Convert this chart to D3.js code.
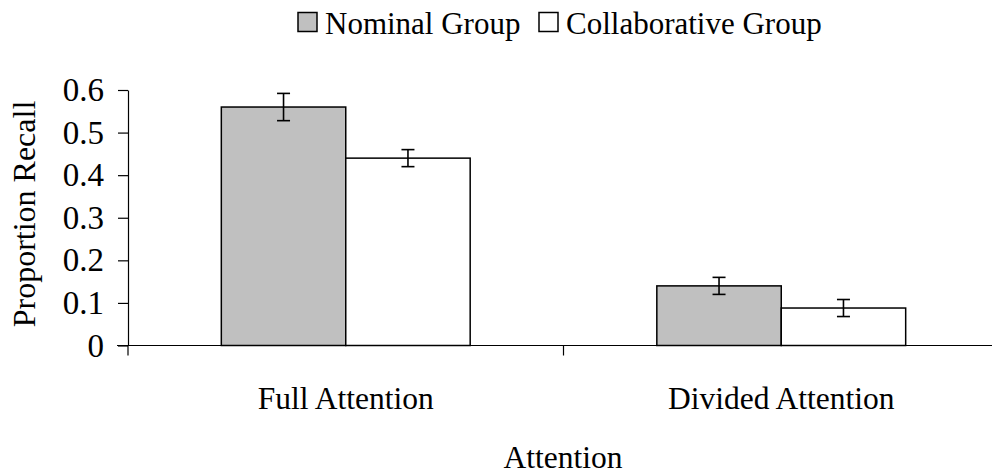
<!DOCTYPE html>
<html>
<head>
<meta charset="utf-8">
<script src="https://cdn.jsdelivr.net/npm/d3@7"></script>
<style>
  body { margin: 0; background: #fff; }
  svg { display: block; }
  text { font-family: "Liberation Serif", "Times New Roman", serif; fill: #000; }
</style>
</head>
<body>
<svg id="chart" width="992" height="475"></svg>
<script>
// ---- data ----
const categories = ["Full Attention", "Divided Attention"];
const seriesNames = ["Nominal Group", "Collaborative Group"];
const nominalValues = [0.56, 0.14];
const collaborativeValues = [0.44, 0.088];
const nominalErrors = [0.032, 0.02];
const collaborativeErrors = [0.02, 0.02];
const yTicks = [0, 0.1, 0.2, 0.3, 0.4, 0.5, 0.6];
const xTitle = "Attention";
const yTitle = "Proportion Recall";

const seriesValues = [nominalValues, collaborativeValues];
const seriesErrors = [nominalErrors, collaborativeErrors];
const seriesFill = ["#c0c0c0", "#ffffff"];

const svg = d3.select("#chart");
const plotLeft = 128, plotRight = 999, plotTop = 90, plotBottom = 345.5;

const x0 = d3.scaleBand().domain(categories).range([plotLeft, plotRight]).padding(0);
const x1 = d3.scaleBand().domain(seriesNames).range([0, x0.bandwidth()]).paddingInner(0).paddingOuter(0.75);
const y = d3.scaleLinear().domain([0, 0.6]).range([plotBottom, plotTop]);

// bars
const data = [];
categories.forEach((c, i) => {
  seriesNames.forEach((s, j) => {
    data.push({ c, s, v: seriesValues[j][i], e: seriesErrors[j][i], fill: seriesFill[j] });
  });
});

svg.append("g").selectAll("rect").data(data).join("rect")
  .attr("x", d => x0(d.c) + x1(d.s))
  .attr("y", d => y(d.v))
  .attr("width", x1.bandwidth())
  .attr("height", d => y(0) - y(d.v))
  .attr("fill", d => d.fill)
  .attr("stroke", "#000")
  .attr("stroke-width", 1.5);

// error bars
const eb = svg.append("g").attr("stroke", "#000").attr("stroke-width", 1.6).attr("fill", "none");
data.forEach(d => {
  const cx = x0(d.c) + x1(d.s) + x1.bandwidth() / 2;
  const y1 = y(d.v + d.e), y2 = y(d.v - d.e);
  eb.append("line").attr("x1", cx).attr("x2", cx).attr("y1", y1).attr("y2", y2);
  eb.append("line").attr("x1", cx - 6.5).attr("x2", cx + 6.5).attr("y1", y1).attr("y2", y1);
  eb.append("line").attr("x1", cx - 6.5).attr("x2", cx + 6.5).attr("y1", y2).attr("y2", y2);
});

// y axis
const yAxis = svg.append("g").attr("transform", `translate(${plotLeft},0)`)
  .call(d3.axisLeft(y).tickValues(yTicks).tickFormat(d => d === 0 ? "0" : d3.format(".1f")(d)).tickSize(10).tickPadding(14).tickSizeOuter(0));
yAxis.attr("font-family", null).attr("font-size", null);
yAxis.selectAll("text").style("font-size", "33px");
yAxis.selectAll("line, path").attr("stroke", "#000").attr("stroke-width", 1.2);

// x axis
const xAxisG = svg.append("g").attr("transform", `translate(0,${plotBottom})`);
xAxisG.append("line").attr("x1", plotLeft - 11).attr("x2", 992).attr("y1", 0).attr("y2", 0)
  .attr("stroke", "#000").attr("stroke-width", 1.2);
const xTickPos = [plotLeft].concat(categories.map(c => x0(c) + x0.bandwidth()));
xAxisG.selectAll("line.tk").data(xTickPos).join("line").attr("class", "tk")
  .attr("x1", d => d).attr("x2", d => d).attr("y1", 0).attr("y2", 10)
  .attr("stroke", "#000").attr("stroke-width", 1.2);
xAxisG.selectAll("text.cat").data(categories).join("text").attr("class", "cat")
  .attr("x", d => x0(d) + x0.bandwidth() / 2)
  .attr("y", 409 - plotBottom)
  .attr("text-anchor", "middle")
  .style("font-size", "31.5px")
  .text(d => d);

// titles
svg.append("text").attr("x", 563).attr("y", 468).attr("text-anchor", "middle")
  .style("font-size", "31.5px").text(xTitle);
svg.append("text").attr("transform", "translate(35,214) rotate(-90)").attr("text-anchor", "middle")
  .style("font-size", "32px").text(yTitle);

// legend
const legendX = [298, 539];
const legend = svg.append("g");
seriesNames.forEach((s, j) => {
  legend.append("rect").attr("x", legendX[j]).attr("y", 12.5).attr("width", 19).attr("height", 19)
    .attr("fill", seriesFill[j]).attr("stroke", "#000").attr("stroke-width", 1.5);
  legend.append("text").attr("x", legendX[j] + 27).attr("y", 34).style("font-size", "31px").text(s);
});
</script>
</body>
</html>
